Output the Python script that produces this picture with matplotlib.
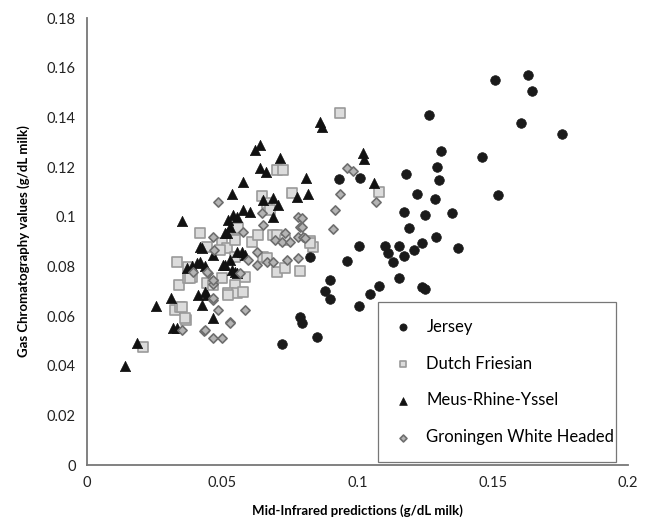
import numpy as np
import matplotlib
matplotlib.use('Agg')
import matplotlib.pyplot as plt

plt.rcParams['font.family'] = ['Lato', 'DejaVu Sans']

# ── 데이터 ─────────────────────────────────────────────
jersey_x = [0.0720, 0.0850, 0.0787, 0.0795, 0.0824, 0.0880, 0.0898, 0.0900, 0.0932, 0.0961,
            0.1006, 0.1006, 0.1009, 0.1046, 0.1080, 0.1100, 0.1113, 0.1130, 0.1153, 0.1153,
            0.1172, 0.1172, 0.1180, 0.1190, 0.1210, 0.1220, 0.1240, 0.1240, 0.1250, 0.1250,
            0.1264, 0.1287, 0.1290, 0.1294, 0.1300, 0.1309, 0.1350, 0.1370, 0.1460, 0.1508,
            0.1520, 0.1604, 0.1630, 0.1645, 0.1756]
jersey_y = [0.0487, 0.0515, 0.0596, 0.0570, 0.0837, 0.0700, 0.0744, 0.0670, 0.1150, 0.0821,
            0.0881, 0.0640, 0.1155, 0.0688, 0.0720, 0.0881, 0.0853, 0.0817, 0.0881, 0.0752,
            0.1018, 0.0841, 0.1170, 0.0954, 0.0865, 0.1090, 0.0893, 0.0716, 0.0710, 0.1006,
            0.1408, 0.1070, 0.0917, 0.1200, 0.1147, 0.1264, 0.1014, 0.0873, 0.1240, 0.1550,
            0.1087, 0.1376, 0.1570, 0.1505, 0.1332]

dutch_x = [0.0207, 0.0325, 0.0344, 0.0366, 0.0333, 0.0340, 0.0373, 0.0373, 0.0388, 0.0418,
           0.0444, 0.0499, 0.0518, 0.0499, 0.0547, 0.0520, 0.0555, 0.0555, 0.0547, 0.0547,
           0.0558, 0.0584, 0.0577, 0.0610, 0.0632, 0.0647, 0.0665, 0.0677, 0.0650, 0.0665,
           0.0688, 0.0702, 0.0725, 0.0702, 0.0732, 0.0758, 0.0787, 0.0824, 0.0835, 0.0935,
           0.1080, 0.0444, 0.0492, 0.0380, 0.0466, 0.0520, 0.0702, 0.0732, 0.0824, 0.0362,
           0.0351]
dutch_y = [0.0475, 0.0624, 0.0636, 0.0583, 0.0817, 0.0724, 0.0752, 0.0797, 0.0757, 0.0934,
           0.0732, 0.0893, 0.0873, 0.0752, 0.0724, 0.0692, 0.0692, 0.0950, 0.0837, 0.0905,
           0.0954, 0.0757, 0.0696, 0.0897, 0.0926, 0.1083, 0.1054, 0.1026, 0.0837, 0.0833,
           0.0926, 0.1187, 0.1187, 0.0777, 0.0793, 0.1095, 0.0781, 0.0901, 0.0877, 0.1416,
           0.1099, 0.0877, 0.0865, 0.0752, 0.0724, 0.0684, 0.0926, 0.0905, 0.0893, 0.0592,
           0.0636]

mry_x = [0.0140, 0.0185, 0.0255, 0.0310, 0.0318, 0.0333, 0.0351, 0.0370, 0.0388, 0.0407,
         0.0418, 0.0436, 0.0410, 0.0436, 0.0444, 0.0425, 0.0425, 0.0466, 0.0466, 0.0503,
         0.0510, 0.0510, 0.0520, 0.0529, 0.0529, 0.0536, 0.0536, 0.0540, 0.0555, 0.0555,
         0.0555, 0.0573, 0.0547, 0.0577, 0.0577, 0.0603, 0.0621, 0.0640, 0.0640, 0.0662,
         0.0688, 0.0706, 0.0688, 0.0713, 0.0776, 0.0810, 0.0817, 0.0861, 0.0869, 0.1020,
         0.1024, 0.1061, 0.0584, 0.0418, 0.0518, 0.0650]
mry_y = [0.0400, 0.0490, 0.0640, 0.0672, 0.0551, 0.0551, 0.0982, 0.0793, 0.0800, 0.0813,
         0.0817, 0.0800, 0.0684, 0.0696, 0.0684, 0.0644, 0.0873, 0.0845, 0.0592, 0.0805,
         0.0934, 0.0805, 0.0986, 0.0958, 0.0825, 0.1090, 0.0785, 0.1006, 0.0998, 0.0773,
         0.0857, 0.0857, 0.0777, 0.1026, 0.1139, 0.1018, 0.1268, 0.1288, 0.1195, 0.1179,
         0.1074, 0.1046, 0.0998, 0.1235, 0.1079, 0.1155, 0.1090, 0.1380, 0.1360, 0.1255,
         0.1231, 0.1135, 0.0845, 0.0877, 0.0934, 0.1066]

gwh_x = [0.0351, 0.0392, 0.0447, 0.0466, 0.0470, 0.0466, 0.0466, 0.0484, 0.0484, 0.0433,
         0.0466, 0.0499, 0.0529, 0.0566, 0.0577, 0.0584, 0.0595, 0.0628, 0.0628, 0.0647,
         0.0650, 0.0665, 0.0688, 0.0695, 0.0721, 0.0732, 0.0739, 0.0750, 0.0780, 0.0780,
         0.0787, 0.0780, 0.0795, 0.0795, 0.0800, 0.0806, 0.0910, 0.0917, 0.0935, 0.0961,
         0.0983, 0.1068, 0.0466, 0.0466, 0.0529, 0.0436, 0.0444]
gwh_y = [0.0543, 0.0777, 0.0773, 0.0918, 0.0865, 0.0728, 0.0664, 0.0624, 0.1058, 0.0540,
         0.0511, 0.0511, 0.0575, 0.0773, 0.0938, 0.0624, 0.0825, 0.0857, 0.0805, 0.1014,
         0.0966, 0.0817, 0.0817, 0.0905, 0.0897, 0.0934, 0.0825, 0.0897, 0.0918, 0.0998,
         0.0958, 0.0833, 0.0994, 0.0958, 0.0918, 0.0913, 0.0950, 0.1026, 0.1090, 0.1195,
         0.1183, 0.1058, 0.0744, 0.0672, 0.0571, 0.0543, 0.0777]

x_ticks = [0, 0.05, 0.1, 0.15, 0.2]
x_ticklabels = ['0', '0.05', '0.1', '0.15', '0.2']
y_ticks = [0, 0.02, 0.04, 0.06, 0.08, 0.1, 0.12, 0.14, 0.16, 0.18]
y_ticklabels = ['0', '0.02', '0.04', '0.06', '0.08', '0.1', '0.12', '0.14', '0.16', '0.18']

# ── 그림 ─────────────────────────────────────────────────────
fig = plt.figure(figsize=(6.49, 5.27), dpi=100)
ax = fig.add_axes([0.134, 0.1176, 0.8336, 0.8482])

ax.scatter(jersey_x, jersey_y, marker='o', s=48, color='#1a1a1a',
           edgecolors='#1a1a1a', linewidths=0.5, label='Jersey', zorder=3)
ax.scatter(dutch_x, dutch_y, marker='s', s=44, color='#dcdcdc',
           edgecolors='#9a9a9a', linewidths=1.2, label='Dutch Friesian', zorder=2)
ax.scatter(mry_x, mry_y, marker='^', s=55, color='#111111',
           edgecolors='#111111', linewidths=0.5, label='Meus-Rhine-Yssel', zorder=3)
ax.scatter(gwh_x, gwh_y, marker='D', s=22, color='#b4b4b4',
           edgecolors='#6e6e6e', linewidths=1.2, label='Groningen White Headed', zorder=4)

ax.set_xlim(0, 0.2)
ax.set_ylim(0, 0.18)
ax.set_xticks(x_ticks)
ax.set_xticklabels(x_ticklabels, fontsize=10.5)
ax.set_yticks(y_ticks)
ax.set_yticklabels(y_ticklabels, fontsize=10.5)
ax.tick_params(length=0, pad=8, colors='#222222')
ax.spines[['top', 'right']].set_visible(False)
ax.spines[['left', 'bottom']].set_color('#777777')
ax.spines[['left', 'bottom']].set_linewidth(1.3)

ax.set_xlabel('Mid-Infrared predictions (g/dL milk)', fontsize=9.5, fontweight='bold', labelpad=10)
ax.set_ylabel('Gas Chromatography values (g/dL milk)', fontsize=9.5, fontweight='bold', labelpad=12)

leg = ax.legend(loc='lower left', bbox_to_anchor=(0.538, 0.007, 0.44, 0.35), mode='expand',
                fontsize=12, frameon=True, fancybox=False, borderpad=1.0,
                labelspacing=1.25, handlelength=1.0, handletextpad=0.9,
                markerscale=0.75, borderaxespad=0)
leg.get_frame().set_edgecolor('#555555')
leg.get_frame().set_linewidth(0.9)

fig.savefig('out.png', dpi=100)
